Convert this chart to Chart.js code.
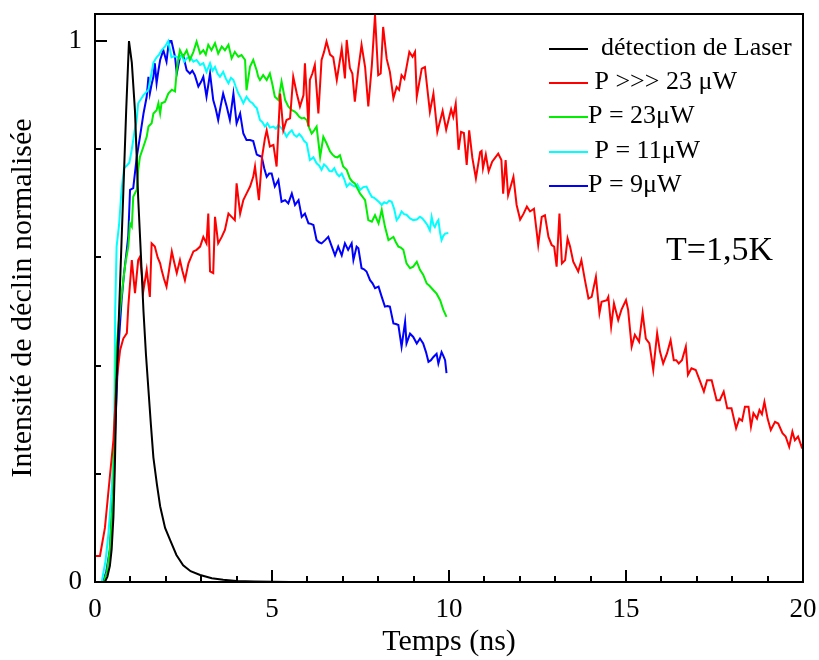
<!DOCTYPE html>
<html>
<head>
<meta charset="utf-8">
<script src="https://cdn.jsdelivr.net/npm/chart.js@4.4.1/dist/chart.umd.min.js"></script>
<style>
  html, body { margin: 0; padding: 0; background: #fff; }
  canvas { display: block; }
</style>
</head>
<body>
<canvas id="decayChart" width="819" height="660"></canvas>
<script>
// Axis ticks (only 0 and 1 are labelled on y)
const xTickLabels = [0, 5, 10, 15, 20];
const yTickLabels = [0, 1];

// Laser detection (instrument response)
const laserTime = [0.2, 0.28, 0.35, 0.42, 0.47, 0.52, 0.56, 0.61, 0.68, 0.75, 0.8, 0.88, 0.96, 1.04, 1.13, 1.22, 1.3, 1.37, 1.44, 1.51, 1.58, 1.65, 1.75, 1.84, 1.98, 2.12, 2.3, 2.49, 2.7, 2.97, 3.3, 3.62, 4.0, 4.5, 5.5, 7, 10];
const laserValues = [0, 0, 0.01, 0.03, 0.06, 0.12, 0.21, 0.37, 0.5, 0.63, 0.72, 0.87, 1.0, 0.96, 0.87, 0.71, 0.6, 0.5, 0.42, 0.355, 0.29, 0.23, 0.18, 0.14, 0.1, 0.078, 0.05, 0.031, 0.02, 0.013, 0.007, 0.004, 0.002, 0.001, 0, 0, 0];

// P >>> 23 uW
const redTime = [0, 0.14, 0.28, 0.42, 0.52, 0.61, 0.71, 0.8, 0.9, 0.94, 1.04, 1.13, 1.22, 1.27, 1.37, 1.46, 1.55, 1.6, 1.69, 1.77, 1.84, 1.88, 1.95, 2.02, 2.1, 2.17, 2.24, 2.31, 2.4, 2.47, 2.54, 2.64, 2.71, 2.78, 2.87, 2.97, 3.06, 3.15, 3.2, 3.25, 3.34, 3.39, 3.48, 3.58, 3.67, 3.77, 3.86, 3.95, 4.0, 4.1, 4.19, 4.28, 4.38, 4.47, 4.52, 4.57, 4.63, 4.72, 4.8, 4.85, 4.94, 5.04, 5.13, 5.23, 5.32, 5.41, 5.51, 5.6, 5.7, 5.79, 5.89, 5.93, 6.03, 6.07, 6.14, 6.21, 6.31, 6.4, 6.47, 6.54, 6.64, 6.73, 6.83, 6.97, 7.06, 7.11, 7.2, 7.27, 7.34, 7.44, 7.53, 7.63, 7.72, 7.82, 7.91, 8.0, 8.07, 8.14, 8.24, 8.33, 8.43, 8.52, 8.59, 8.66, 8.74, 8.88, 8.97, 9.04, 9.09, 9.23, 9.32, 9.46, 9.56, 9.67, 9.82, 9.92, 10.06, 10.12, 10.19, 10.27, 10.34, 10.42, 10.5, 10.57, 10.66, 10.76, 10.88, 10.92, 10.96, 11.04, 11.12, 11.22, 11.39, 11.48, 11.53, 11.6, 11.67, 11.82, 11.91, 12.01, 12.1, 12.2, 12.29, 12.4, 12.52, 12.62, 12.71, 12.81, 12.9, 12.97, 13.04, 13.12, 13.19, 13.28, 13.35, 13.42, 13.51, 13.65, 13.74, 13.84, 13.94, 14.03, 14.15, 14.25, 14.31, 14.46, 14.5, 14.58, 14.66, 14.78, 14.87, 15.0, 15.06, 15.16, 15.25, 15.37, 15.47, 15.56, 15.66, 15.77, 15.88, 15.96, 16.05, 16.16, 16.26, 16.35, 16.42, 16.49, 16.58, 16.69, 16.75, 16.85, 16.97, 17.08, 17.2, 17.29, 17.42, 17.56, 17.65, 17.76, 17.86, 17.98, 18.11, 18.2, 18.28, 18.36, 18.46, 18.53, 18.6, 18.7, 18.77, 18.84, 18.91, 19.0, 19.09, 19.21, 19.3, 19.42, 19.51, 19.61, 19.7, 19.77, 19.86, 19.96, 20];
const redValues = [0.048, 0.048, 0.1, 0.195, 0.262, 0.373, 0.429, 0.45, 0.46, 0.509, 0.595, 0.534, 0.595, 0.601, 0.54, 0.577, 0.527, 0.626, 0.62, 0.6, 0.589, 0.577, 0.56, 0.546, 0.58, 0.611, 0.59, 0.571, 0.595, 0.575, 0.558, 0.589, 0.6, 0.611, 0.614, 0.62, 0.638, 0.626, 0.681, 0.574, 0.571, 0.675, 0.626, 0.638, 0.651, 0.681, 0.675, 0.669, 0.737, 0.681, 0.706, 0.718, 0.731, 0.749, 0.768, 0.74, 0.706, 0.786, 0.82, 0.835, 0.805, 0.808, 0.768, 0.903, 0.835, 0.854, 0.857, 0.934, 0.903, 0.879, 0.9, 0.959, 0.842, 0.928, 0.94, 0.956, 0.866, 0.965, 0.98, 0.999, 0.975, 0.97, 0.928, 0.986, 0.931, 1.002, 0.95, 0.94, 0.888, 0.949, 0.993, 0.952, 0.879, 0.955, 1.048, 0.937, 0.94, 1.026, 0.967, 0.943, 0.894, 0.915, 0.91, 0.937, 0.93, 0.98, 0.971, 0.98, 0.897, 0.949, 0.952, 0.869, 0.903, 0.832, 0.871, 0.836, 0.874, 0.86, 0.884, 0.799, 0.832, 0.83, 0.771, 0.835, 0.784, 0.746, 0.795, 0.797, 0.765, 0.79, 0.759, 0.777, 0.792, 0.78, 0.718, 0.78, 0.715, 0.749, 0.697, 0.67, 0.68, 0.694, 0.685, 0.69, 0.623, 0.675, 0.678, 0.638, 0.623, 0.62, 0.583, 0.681, 0.589, 0.595, 0.635, 0.62, 0.592, 0.574, 0.595, 0.558, 0.524, 0.527, 0.564, 0.497, 0.518, 0.521, 0.527, 0.472, 0.515, 0.484, 0.503, 0.521, 0.503, 0.435, 0.457, 0.444, 0.497, 0.45, 0.441, 0.392, 0.46, 0.426, 0.404, 0.423, 0.447, 0.41, 0.41, 0.404, 0.41, 0.435, 0.383, 0.395, 0.392, 0.373, 0.352, 0.373, 0.373, 0.336, 0.336, 0.352, 0.321, 0.321, 0.284, 0.302, 0.298, 0.324, 0.324, 0.287, 0.312, 0.302, 0.318, 0.31, 0.333, 0.302, 0.281, 0.296, 0.293, 0.275, 0.269, 0.25, 0.278, 0.262, 0.269, 0.25, 0.255];

// P = 23 uW
const greenTime = [0.25, 0.34, 0.42, 0.52, 0.56, 0.61, 0.7, 0.8, 0.86, 0.94, 0.99, 1.04, 1.08, 1.18, 1.22, 1.27, 1.37, 1.46, 1.51, 1.6, 1.65, 1.74, 1.79, 1.84, 1.88, 1.98, 2.07, 2.17, 2.26, 2.31, 2.35, 2.4, 2.49, 2.59, 2.68, 2.78, 2.87, 2.97, 3.06, 3.13, 3.2, 3.29, 3.39, 3.48, 3.58, 3.67, 3.77, 3.86, 3.95, 4.05, 4.14, 4.24, 4.28, 4.38, 4.47, 4.57, 4.61, 4.66, 4.75, 4.85, 4.94, 5.01, 5.08, 5.18, 5.27, 5.37, 5.46, 5.56, 5.63, 5.7, 5.77, 5.84, 5.91, 5.98, 6.05, 6.12, 6.19, 6.26, 6.36, 6.45, 6.54, 6.64, 6.71, 6.78, 6.85, 6.92, 7.01, 7.11, 7.2, 7.27, 7.34, 7.41, 7.49, 7.56, 7.63, 7.72, 7.82, 7.91, 8.01, 8.1, 8.19, 8.29, 8.36, 8.43, 8.5, 8.57, 8.64, 8.71, 8.8, 8.9, 8.99, 9.09, 9.18, 9.27, 9.37, 9.44, 9.51, 9.58, 9.65, 9.75, 9.84, 9.93];
const greenValues = [0, 0.02, 0.06, 0.17, 0.3, 0.435, 0.5, 0.558, 0.59, 0.62, 0.663, 0.657, 0.712, 0.725, 0.762, 0.786, 0.805, 0.823, 0.842, 0.848, 0.866, 0.872, 0.885, 0.866, 0.885, 0.888, 0.903, 0.91, 0.907, 0.946, 0.965, 0.983, 0.971, 0.983, 0.965, 0.98, 0.999, 0.977, 0.983, 0.975, 0.993, 0.983, 0.996, 0.977, 0.99, 0.983, 0.993, 0.968, 0.98, 0.971, 0.974, 0.965, 0.909, 0.953, 0.965, 0.945, 0.934, 0.928, 0.937, 0.928, 0.94, 0.92, 0.897, 0.891, 0.925, 0.891, 0.879, 0.872, 0.87, 0.866, 0.86, 0.857, 0.858, 0.854, 0.84, 0.829, 0.835, 0.842, 0.786, 0.823, 0.811, 0.796, 0.79, 0.786, 0.785, 0.789, 0.768, 0.762, 0.746, 0.74, 0.737, 0.728, 0.718, 0.712, 0.706, 0.669, 0.666, 0.678, 0.663, 0.688, 0.657, 0.632, 0.635, 0.638, 0.628, 0.62, 0.618, 0.614, 0.589, 0.58, 0.583, 0.592, 0.577, 0.568, 0.552, 0.548, 0.543, 0.538, 0.533, 0.521, 0.503, 0.49];

// P = 11 uW
const cyanTime = [0.19, 0.3, 0.38, 0.46, 0.54, 0.57, 0.61, 0.68, 0.75, 0.82, 0.9, 0.97, 1.04, 1.08, 1.12, 1.17, 1.22, 1.3, 1.37, 1.44, 1.51, 1.58, 1.65, 1.74, 1.81, 1.88, 1.98, 2.07, 2.16, 2.23, 2.31, 2.38, 2.45, 2.52, 2.59, 2.68, 2.78, 2.87, 2.97, 3.06, 3.15, 3.25, 3.32, 3.39, 3.46, 3.53, 3.62, 3.7, 3.77, 3.84, 3.91, 3.98, 4.05, 4.12, 4.19, 4.28, 4.38, 4.45, 4.52, 4.57, 4.66, 4.73, 4.8, 4.87, 4.94, 5.04, 5.11, 5.18, 5.25, 5.32, 5.41, 5.48, 5.56, 5.63, 5.7, 5.77, 5.84, 5.91, 5.98, 6.07, 6.17, 6.26, 6.33, 6.4, 6.47, 6.54, 6.62, 6.69, 6.76, 6.83, 6.9, 6.97, 7.04, 7.11, 7.2, 7.27, 7.34, 7.41, 7.49, 7.58, 7.67, 7.75, 7.82, 7.89, 7.96, 8.03, 8.1, 8.17, 8.24, 8.31, 8.38, 8.45, 8.52, 8.59, 8.66, 8.73, 8.8, 8.9, 8.99, 9.09, 9.18, 9.25, 9.32, 9.39, 9.46, 9.51, 9.56, 9.6, 9.65, 9.7, 9.75, 9.79, 9.84, 9.89, 9.98];
const cyanValues = [0, 0.04, 0.09, 0.16, 0.26, 0.5, 0.62, 0.66, 0.725, 0.765, 0.77, 0.775, 0.8, 0.817, 0.835, 0.85, 0.885, 0.893, 0.9, 0.905, 0.91, 0.935, 0.96, 0.97, 0.975, 0.983, 0.99, 1.0, 0.97, 0.972, 0.971, 0.968, 0.974, 0.962, 0.968, 0.971, 0.962, 0.965, 0.956, 0.959, 0.943, 0.959, 0.945, 0.952, 0.94, 0.934, 0.943, 0.93, 0.922, 0.932, 0.928, 0.915, 0.903, 0.895, 0.885, 0.897, 0.888, 0.885, 0.879, 0.876, 0.854, 0.85, 0.842, 0.848, 0.84, 0.842, 0.838, 0.845, 0.84, 0.835, 0.823, 0.83, 0.835, 0.826, 0.823, 0.828, 0.823, 0.815, 0.811, 0.78, 0.785, 0.774, 0.77, 0.762, 0.772, 0.768, 0.76, 0.759, 0.765, 0.755, 0.75, 0.755, 0.745, 0.731, 0.737, 0.733, 0.731, 0.735, 0.725, 0.73, 0.731, 0.72, 0.712, 0.71, 0.706, 0.702, 0.697, 0.702, 0.7, 0.705, 0.703, 0.69, 0.669, 0.675, 0.685, 0.68, 0.679, 0.672, 0.669, 0.67, 0.675, 0.672, 0.666, 0.66, 0.65, 0.675, 0.66, 0.656, 0.664, 0.669, 0.645, 0.632, 0.64, 0.644, 0.645];

// P = 9 uW
const blueTime = [0.23, 0.32, 0.42, 0.52, 0.58, 0.66, 0.7, 0.75, 0.82, 0.9, 0.94, 0.99, 1.08, 1.18, 1.27, 1.37, 1.46, 1.51, 1.55, 1.6, 1.65, 1.69, 1.74, 1.79, 1.84, 1.93, 2.02, 2.07, 2.12, 2.16, 2.26, 2.31, 2.4, 2.49, 2.59, 2.68, 2.75, 2.82, 2.92, 3.0, 3.06, 3.15, 3.25, 3.34, 3.41, 3.48, 3.55, 3.62, 3.72, 3.81, 3.91, 4.0, 4.1, 4.19, 4.28, 4.38, 4.47, 4.57, 4.64, 4.71, 4.78, 4.85, 4.92, 4.99, 5.08, 5.18, 5.27, 5.37, 5.46, 5.56, 5.65, 5.75, 5.84, 5.93, 6.03, 6.1, 6.17, 6.26, 6.33, 6.4, 6.5, 6.59, 6.69, 6.78, 6.87, 6.97, 7.06, 7.15, 7.25, 7.3, 7.39, 7.44, 7.53, 7.6, 7.67, 7.77, 7.84, 7.91, 8.01, 8.1, 8.19, 8.26, 8.33, 8.43, 8.5, 8.57, 8.66, 8.76, 8.8, 8.9, 8.99, 9.09, 9.18, 9.27, 9.35, 9.42, 9.49, 9.56, 9.65, 9.7, 9.79, 9.84, 9.89, 9.93];
const blueValues = [0, 0.02, 0.06, 0.18, 0.3, 0.43, 0.47, 0.52, 0.57, 0.615, 0.64, 0.725, 0.728, 0.786, 0.823, 0.866, 0.897, 0.934, 0.903, 0.92, 0.934, 0.959, 0.922, 0.945, 0.965, 0.983, 0.962, 0.99, 1.0, 1.0, 0.971, 0.94, 0.971, 0.974, 0.946, 0.94, 0.945, 0.937, 0.916, 0.925, 0.934, 0.897, 0.94, 0.891, 0.875, 0.854, 0.88, 0.903, 0.879, 0.854, 0.903, 0.848, 0.866, 0.829, 0.817, 0.817, 0.815, 0.79, 0.788, 0.786, 0.765, 0.749, 0.755, 0.755, 0.731, 0.743, 0.703, 0.706, 0.7, 0.718, 0.697, 0.706, 0.675, 0.681, 0.663, 0.662, 0.66, 0.632, 0.628, 0.626, 0.632, 0.638, 0.62, 0.604, 0.62, 0.604, 0.626, 0.614, 0.626, 0.595, 0.62, 0.617, 0.58, 0.578, 0.574, 0.558, 0.552, 0.543, 0.546, 0.527, 0.509, 0.51, 0.509, 0.478, 0.477, 0.475, 0.435, 0.481, 0.441, 0.459, 0.453, 0.441, 0.45, 0.441, 0.425, 0.407, 0.41, 0.416, 0.422, 0.404, 0.425, 0.418, 0.41, 0.386];

const serif = "'Liberation Serif', 'Times New Roman', serif";

function toPoints(times, values) {
    return times.map(function(t, i) {
        return { x: t, y: values[i] };
    });
}

function makeSeries(label, color, times, values) {
    return {
        label: label,
        data: toPoints(times, values),
        borderColor: color,
        backgroundColor: color,
        borderWidth: 2,
        pointRadius: 0,
        tension: 0,
        fill: false
    };
}

function isLabelled(list, v) {
    return list.some(function(t) { return Math.abs(t - v) < 1e-6; });
}

// keep the plot box exactly where the original has it
function noOverflow(scale) {
    scale.paddingTop = 0;
    scale.paddingBottom = 0;
    scale.paddingLeft = 0;
    scale.paddingRight = 0;
}

// frame plus inward tick marks, like the original plot
const frameTicks = {
    id: 'frameTicks',
    afterDatasetsDraw: function(chart) {
        const ctx = chart.ctx;
        const area = chart.chartArea;
        const xs = chart.scales.x;
        const ys = chart.scales.y;
        ctx.save();
        ctx.strokeStyle = '#000';
        ctx.lineWidth = 2;
        ctx.beginPath();
        for (let t = 0; t <= 20; t++) {
            const px = Math.round(xs.getPixelForValue(t));
            const len = isLabelled(xTickLabels, t) ? 12 : 6;
            ctx.moveTo(px, area.bottom);
            ctx.lineTo(px, area.bottom - len);
        }
        for (let k = 0; k <= 5; k++) {
            const v = k * 0.2;
            const py = Math.round(ys.getPixelForValue(v));
            const len = isLabelled(yTickLabels, v) ? 12 : 6;
            ctx.moveTo(area.left, py);
            ctx.lineTo(area.left + len, py);
        }
        ctx.stroke();
        ctx.strokeRect(area.left, area.top, area.right - area.left, area.bottom - area.top);
        ctx.restore();
    }
};

// legend in the upper right corner and the temperature note
const sideNotes = {
    id: 'sideNotes',
    afterDraw: function(chart) {
        const ctx = chart.ctx;
        const rowY = [49, 83, 117, 152, 186];
        ctx.save();
        ctx.font = '26px ' + serif;
        ctx.textBaseline = 'alphabetic';
        ctx.textAlign = 'left';
        chart.data.datasets.forEach(function(ds, i) {
            ctx.strokeStyle = ds.borderColor;
            ctx.lineWidth = 2;
            ctx.beginPath();
            ctx.moveTo(549, rowY[i]);
            ctx.lineTo(588, rowY[i]);
            ctx.stroke();
            ctx.fillStyle = '#000';
            ctx.fillText(ds.label, 588, rowY[i] + 6);
        });
        ctx.font = '34px ' + serif;
        ctx.fillText('T=1,5K', 666, 260);
        ctx.restore();
    }
};

const ctx = document.getElementById('decayChart').getContext('2d');

new Chart(ctx, {
    type: 'line',
    data: {
        datasets: [
            makeSeries('  détection de Laser', '#000000', laserTime, laserValues),
            makeSeries(' P >>> 23 \u03bcW', '#ff0000', redTime, redValues),
            makeSeries('P = 23\u03bcW', '#00ee00', greenTime, greenValues),
            makeSeries(' P = 11\u03bcW', '#00ffff', cyanTime, cyanValues),
            makeSeries('P = 9\u03bcW', '#0000ff', blueTime, blueValues)
        ]
    },
    options: {
        responsive: false,
        animation: false,
        layout: {
            padding: { top: 14, right: 16, left: 0, bottom: 0 }
        },
        plugins: {
            legend: { display: false },
            tooltip: { enabled: false }
        },
        scales: {
            x: {
                type: 'linear',
                min: 0,
                max: 20,
                grid: { display: false, drawTicks: false },
                border: { display: false },
                ticks: {
                    padding: 12,
                    autoSkip: false,
                    maxRotation: 0,
                    color: '#000',
                    font: { family: serif, size: 27 }
                },
                afterBuildTicks: function(scale) {
                    scale.ticks = xTickLabels.map(function(v) { return { value: v }; });
                },
                title: {
                    display: true,
                    text: 'Temps (ns)',
                    color: '#000',
                    font: { family: serif, size: 30 },
                    padding: { top: 0, bottom: 0 }
                },
                afterFit: function(scale) {
                    scale.height = 78;
                    noOverflow(scale);
                }
            },
            y: {
                min: 0,
                max: 1.05,
                grid: { display: false, drawTicks: false },
                border: { display: false },
                ticks: {
                    padding: 13,
                    autoSkip: false,
                    color: '#000',
                    font: { family: serif, size: 27 }
                },
                afterBuildTicks: function(scale) {
                    scale.ticks = yTickLabels.map(function(v) { return { value: v }; });
                },
                title: {
                    display: true,
                    text: 'Intensité de déclin normalisée',
                    color: '#000',
                    font: { family: serif, size: 30 },
                    padding: { top: 5, bottom: 0 }
                },
                afterFit: function(scale) {
                    scale.width = 95;
                    noOverflow(scale);
                }
            }
        }
    },
    plugins: [frameTicks, sideNotes]
});
</script>
</body>
</html>
